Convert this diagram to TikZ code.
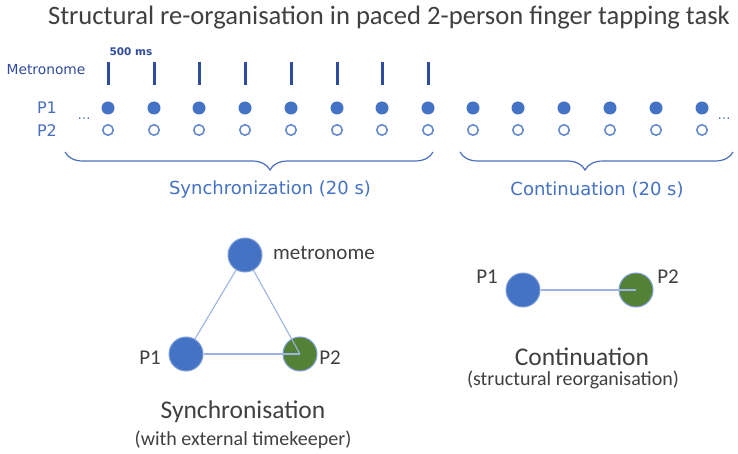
\documentclass[tikz,border=0pt]{standalone}
\usepackage{fontspec}
\setmainfont{Carlito}
\newfontfamily\verd{DejaVu Sans}
\usetikzlibrary{decorations.pathreplacing}
\definecolor{dotblue}{HTML}{4472C4}
\definecolor{tickblue}{HTML}{2F4B9B}
\definecolor{labblue}{HTML}{4A6FBF}
\definecolor{rimblue}{HTML}{7F9FD8}
\definecolor{edgeblue}{HTML}{9DB4E0}
\definecolor{pgreen}{HTML}{538135}
\definecolor{txtgray}{HTML}{404040}
\tikzset{
  tapfull/.style={circle,fill=dotblue,inner sep=0pt,minimum size=13pt},
  tapopen/.style={circle,draw=dotblue!85,fill=white,line width=1.5pt,inner sep=0pt,minimum size=10.5pt},
  ticknode/.style={inner sep=0pt,minimum width=3pt,minimum height=23pt,fill=tickblue},
  toplab/.style={font=\verd\fontsize{16}{18}\selectfont,text=labblue,inner sep=0pt},
  agent/.style={circle,draw=rimblue,line width=1pt,inner sep=0pt,minimum size=34pt},
  link/.style={draw=edgeblue,line width=1.1pt},
  graylab/.style={text=txtgray,inner sep=0pt},
  curly/.style={draw=labblue,line width=1.2pt,decorate,decoration={brace,mirror,amplitude=18pt,aspect=#1}}
}
\begin{document}
\begin{tikzpicture}[x=1pt,y=-1pt]
\useasboundingbox (0,0) rectangle (738,454);
\fill[white] (0,0) rectangle (738,454);

% title
\node[graylab,font=\fontsize{26.6}{30}\selectfont] (title) at (389,18) {Structural re-organisation in paced 2-person finger tapping task};

% metronome row
\node[toplab,text=tickblue,font=\verd\bfseries\fontsize{10.5}{12}\selectfont] (ms) at (131,52) {500 ms};
\node[toplab,text=tickblue,font=\verd\fontsize{13.8}{16}\selectfont] (metlab) at (46,70) {Metronome};
\foreach \i/\x in {1/108,2/154,3/199,4/245,5/291,6/337,7/382,8/428}
  \node[ticknode] (t\i) at (\x,73.5) {};

% participant rows
\node[toplab] (p1lab) at (47,108) {P1};
\node[toplab] (p2lab) at (47,131) {P2};
\foreach \i/\x in {1/108,2/154,3/199,4/245,5/291,6/337,7/382,8/428,9/473,10/518,11/564,12/610,13/656,14/702}{
  \node[tapfull] (a\i) at (\x,108) {};
  \node[tapopen] (b\i) at (\x,130) {};
}
\node[toplab,font=\verd\fontsize{13}{15}\selectfont] (dotsl) at (84,119) {\dots};
\node[toplab,font=\verd\fontsize{13}{15}\selectfont] (dotsr) at (724,119) {\dots};

% phase braces
\coordinate (s0) at (65,152);
\coordinate (s1) at (433,152);
\coordinate (c0) at (460,152);
\coordinate (c1) at (733,152);
\draw[curly=0.557] (s0) -- (s1);
\draw[curly=0.458] (c0) -- (c1);
\node[toplab,text=dotblue,font=\verd\fontsize{18}{21}\selectfont] (synclab) at (270,190) {Synchronization (20 s)};
\node[toplab,text=dotblue,font=\verd\fontsize{18}{21}\selectfont] (contlab) at (597,190) {Continuation (20 s)};

% synchronisation structure
\node[agent,fill=dotblue] (met) at (245,255) {};
\node[agent,fill=dotblue] (sp1) at (186,354) {};
\node[agent,fill=pgreen] (sp2) at (300,354) {};
\draw[link] (met) -- (sp1);
\draw[link] (met) -- (sp2.center);
\draw[link] (sp1) -- (sp2.center);
\node[graylab,font=\fontsize{21}{24}\selectfont,anchor=west] (metname) at (273,253) {metronome};
\node[graylab,font=\fontsize{21}{24}\selectfont] (sp1lab) at (150,358) {P1};
\node[graylab,font=\fontsize{21}{24}\selectfont] (sp2lab) at (330,358) {P2};
\node[graylab,font=\fontsize{25.5}{29}\selectfont] (synctitle) at (243,412) {Synchronisation};
\node[graylab,font=\fontsize{20}{23}\selectfont] (syncsub) at (243,440) {(with external timekeeper)};

% continuation structure
\node[agent,fill=dotblue] (cp1) at (523,290) {};
\node[agent,fill=pgreen] (cp2) at (636,290) {};
\draw[link] (cp1) -- (cp2.center);
\node[graylab,font=\fontsize{21}{24}\selectfont] (cp1lab) at (487,277) {P1};
\node[graylab,font=\fontsize{21}{24}\selectfont] (cp2lab) at (668,277) {P2};
\node[graylab,font=\fontsize{25.5}{29}\selectfont] (conttitle) at (582,357) {Continuation};
\node[graylab,font=\fontsize{20}{23}\selectfont] (contsub) at (573,380) {(structural reorganisation)};
\end{tikzpicture}
\end{document}
